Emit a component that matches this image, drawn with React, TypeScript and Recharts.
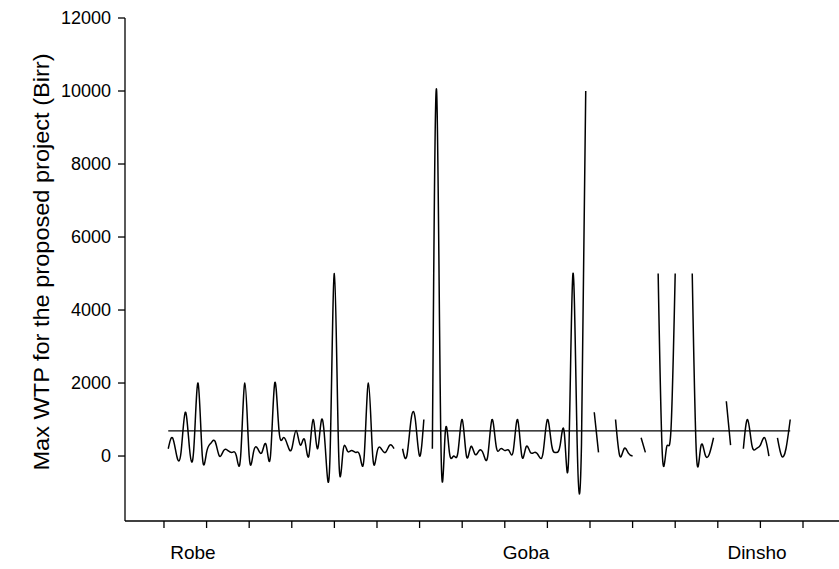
import React from "react"
import { LineChart, Line, XAxis, YAxis, ReferenceLine } from "recharts"

// Max WTP (Birr) per respondent, in survey order; null = no answer
const robeWTP: (number | null)[] = [
  200, 500, 0, 100, 1200, 200, 200, 2000, 0, 100, 350, 400, 0, 150, 150, 100, 0, 0, 2000, 0,
  100, 200, 100, 300, 0, 2000, 700, 500, 300, 200, 700, 300, 450, 0, 1000, 200, 1000, 0, 100, 5000,
  100, 100, 150, 150, 100, 0, 0, 2000, 0, 100, 200, 100, 300, 200, null,
]
const gobaWTP: (number | null)[] = [
  200, 0, 1000, 1000, 0, 1000, null, 200, 10000, 400, 600, 100, 0, 100, 1000, 0, 250, 50, 150, 50,
  0, 1000, 250, 200, 150, 150, 150, 1000, 0, 250, 100, 100, 0, 100, 1000, 300, 100, 300, 600, 0,
  5000, 300, 300, 10000, null, 1200, 100, null, null, null, 1000, 0, 200, 80, 0, null, 500, 100, null, null,
  5000, 0, 250, 700, 5000, null, null, null, 5000, 0, 250, 50, 50, 500, null,
]
const dinshoWTP: (number | null)[] = [
  null, 1500, 300, null, null, 200, 1000, 300, 200, 300, 500, 0, null, 500, 0, 200, 1000,
]
const meanWTP = 690

const tickValues = [0, 10, 20, 30, 40, 50, 60, 70, 80, 90, 100, 110, 120, 130, 140, 150]
const townNames = ["Robe", "Goba", "Dinsho"]
const townLabelAt = [6.8, 85, 139.2]
const yTicks = [0, 2000, 4000, 6000, 8000, 10000, 12000]

const data = [...robeWTP, ...gobaWTP, ...dinshoWTP].map((v, k) => ({ obs: k + 1, wtp: v }))
const lastObs = data.length

const font = "'Liberation Sans', Arial, sans-serif"

function BottomTick(props: any) {
  const { x, y, payload } = props
  const idx = townLabelAt.indexOf(payload.value)
  if (idx >= 0) {
    return (
      <text x={x} y={y + 31} textAnchor="middle" fontSize={19} fontFamily={font} fill="#000">
        {townNames[idx]}
      </text>
    )
  }
  return <line x1={x} x2={x} y1={y - 7} y2={y} stroke="#000" strokeWidth={1.3} />
}

export default function App() {
  return (
    <div style={{ position: "absolute", left: 0, top: 0, background: "#fff" }}>
      <LineChart
        width={839}
        height={569}
        data={data}
        margin={{ top: 18, right: 0, bottom: 0, left: 0 }}
        style={{ fontFamily: font }}
      >
        <XAxis
          dataKey="obs"
          type="number"
          domain={[-9.15, 158.45]}
          allowDataOverflow
          ticks={[...tickValues, ...townLabelAt]}
          interval={0}
          tick={<BottomTick />}
          tickLine={false}
          tickSize={7}
          tickMargin={0}
          height={48}
          axisLine={{ stroke: "#000", strokeWidth: 1.3 }}
        />
        <YAxis
          type="number"
          domain={[-1780, 12000]}
          allowDataOverflow
          ticks={yTicks}
          interval={0}
          width={125}
          tickSize={7}
          tickMargin={7}
          tick={{ fill: "#000", fontSize: 18, fontFamily: font }}
          tickLine={{ stroke: "#000", strokeWidth: 1.3 }}
          axisLine={{ stroke: "#000", strokeWidth: 1.3 }}
          label={{
            content: () => (
              <text
                x={41}
                y={262}
                transform="rotate(-90 41 262)"
                textAnchor="middle"
                dominantBaseline="central"
                fontSize={22}
                fontFamily={font}
                fill="#000"
                textLength={417}
                lengthAdjust="spacingAndGlyphs"
              >
                Max WTP for the proposed project (Birr)
              </text>
            ),
          }}
        />
        <ReferenceLine
          segment={[{ x: 1, y: meanWTP }, { x: lastObs, y: meanWTP }]}
          stroke="#000"
          strokeWidth={1.3}
        />
        <Line
          dataKey="wtp"
          type="natural"
          stroke="#000"
          strokeWidth={1.5}
          dot={false}
          connectNulls={false}
          isAnimationActive={false}
        />
      </LineChart>
    </div>
  )
}
